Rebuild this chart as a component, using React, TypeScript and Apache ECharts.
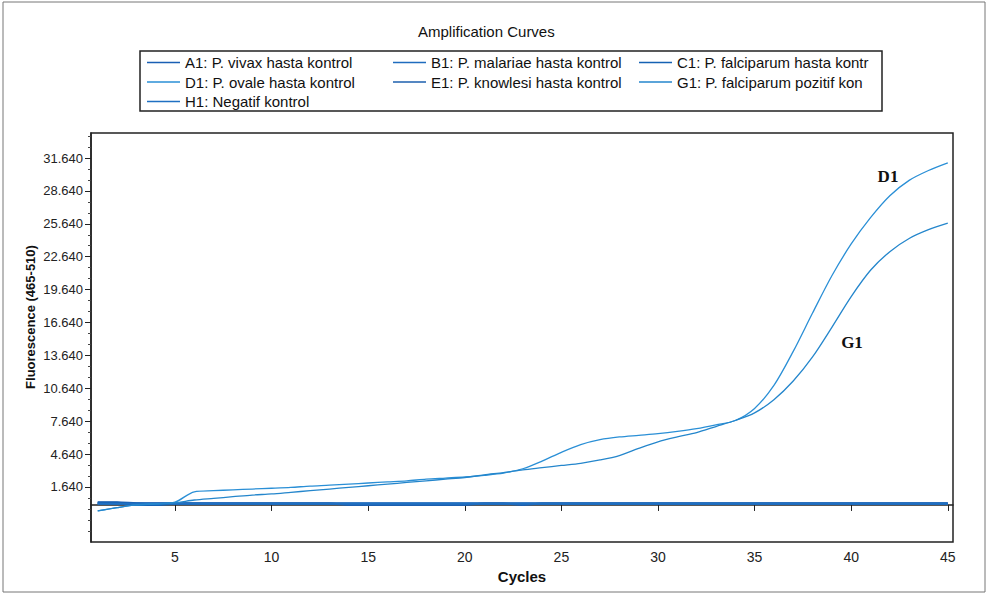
import React, { useEffect, useRef } from "react";
import * as echarts from "echarts";

const cycles = [1, 2, 3, 4, 5, 6, 7, 8, 9, 10, 11, 12, 13, 14, 15, 16, 17, 18, 19, 20, 21, 22, 23, 24, 25, 26, 27, 28, 29, 30, 31, 32, 33, 34, 35, 36, 37, 38, 39, 40, 41, 42, 43, 44, 45];

const seriesNames = [
  "A1: P. vivax hasta kontrol",
  "B1: P. malariae hasta kontrol",
  "C1: P. falciparum hasta kontr",
  "D1: P. ovale hasta kontrol",
  "E1: P. knowlesi hasta kontrol",
  "G1: P. falciparum pozitif kon",
  "H1: Negatif kontrol",
];

const A1 = [0.25, 0.25, 0.15, 0.12, 0.12, 0.12, 0.12, 0.12, 0.12, 0.12, 0.12, 0.12, 0.12, 0.12, 0.12, 0.12, 0.12, 0.12, 0.12, 0.12, 0.12, 0.12, 0.12, 0.12, 0.12, 0.12, 0.12, 0.12, 0.12, 0.12, 0.12, 0.12, 0.12, 0.12, 0.12, 0.12, 0.12, 0.12, 0.12, 0.12, 0.12, 0.12, 0.12, 0.12, 0.12];
const B1 = [0.12, 0.12, 0.12, 0.12, 0.12, 0.12, 0.12, 0.12, 0.12, 0.12, 0.12, 0.12, 0.12, 0.12, 0.12, 0.12, 0.12, 0.12, 0.12, 0.12, 0.12, 0.12, 0.12, 0.12, 0.12, 0.12, 0.12, 0.12, 0.12, 0.12, 0.12, 0.12, 0.12, 0.12, 0.12, 0.12, 0.12, 0.12, 0.12, 0.12, 0.12, 0.12, 0.12, 0.12, 0.12];
const C1 = [0.2, 0.2, 0.0, 0.0, 0.1, 0.1, 0.1, 0.1, 0.1, 0.1, 0.1, 0.1, 0.1, 0.1, 0.1, 0.1, 0.1, 0.1, 0.1, 0.1, 0.1, 0.1, 0.1, 0.1, 0.1, 0.1, 0.1, 0.1, 0.1, 0.1, 0.1, 0.1, 0.1, 0.1, 0.1, 0.1, 0.1, 0.1, 0.1, 0.1, 0.1, 0.1, 0.1, 0.1, 0.1];
const D1 = [-0.55, -0.25, 0.0, 0.1, 0.25, 1.2, 1.3, 1.38, 1.45, 1.52, 1.6, 1.72, 1.8, 1.9, 2.0, 2.1, 2.2, 2.35, 2.45, 2.55, 2.7, 2.9, 3.3, 4.0, 4.8, 5.5, 5.95, 6.2, 6.35, 6.5, 6.7, 6.95, 7.3, 7.7, 8.8, 10.9, 14.0, 17.5, 20.9, 23.8, 26.2, 28.2, 29.6, 30.5, 31.2];
const E1 = [0.12, 0.12, 0.12, 0.12, 0.12, 0.12, 0.12, 0.12, 0.12, 0.12, 0.12, 0.12, 0.12, 0.0, 0.0, 0.0, 0.0, 0.0, 0.0, 0.0, 0.12, 0.12, 0.0, 0.12, 0.12, 0.12, 0.12, 0.12, 0.12, 0.12, 0.12, 0.12, 0.12, 0.12, 0.12, 0.12, 0.12, 0.12, 0.12, 0.12, 0.12, 0.12, 0.12, 0.12, 0.12];
const G1 = [-0.55, -0.25, 0.0, 0.1, 0.2, 0.45, 0.6, 0.75, 0.9, 1.0, 1.15, 1.3, 1.45, 1.6, 1.75, 1.9, 2.05, 2.2, 2.35, 2.5, 2.75, 2.95, 3.2, 3.4, 3.6, 3.8, 4.1, 4.5, 5.15, 5.75, 6.2, 6.6, 7.15, 7.7, 8.4, 9.6, 11.3, 13.5, 16.2, 19.0, 21.4, 23.1, 24.3, 25.1, 25.7];
const H1 = [0.1, 0.1, 0.1, 0.1, 0.1, 0.1, 0.1, 0.1, 0.1, 0.1, 0.1, 0.1, 0.1, 0.1, 0.1, 0.1, 0.1, 0.1, 0.1, 0.1, 0.1, 0.1, 0.1, 0.1, 0.1, 0.1, 0.1, 0.1, 0.1, 0.1, 0.1, 0.1, 0.1, 0.1, 0.1, 0.1, 0.1, 0.1, 0.1, 0.1, 0.1, 0.1, 0.1, 0.1, 0.1];

const seriesValues = [A1, B1, C1, D1, E1, G1, H1];
const seriesColors = ["#1a5fb4", "#1f6cbe", "#1562b3", "#2a8fd6", "#1d5fae", "#2486cc", "#1f70c2"];
const seriesWidths = [2, 2, 2, 1.3, 2, 1.3, 2];

const yTickValues = [1.64, 4.64, 7.64, 10.64, 13.64, 16.64, 19.64, 22.64, 25.64, 28.64, 31.64];
const yMinorTickValues = [-2.36, -1.36, -0.36, 0.64, 2.64, 3.64, 5.64, 6.64, 8.64, 9.64, 11.64, 12.64, 14.64, 15.64, 17.64, 18.64, 20.64, 21.64, 23.64, 24.64, 26.64, 27.64, 29.64, 30.64, 32.64, 33.64];
const xTickValues = [5, 10, 15, 20, 25, 30, 35, 40, 45];

const Y_MIN = -3.38;
const Y_MAX = 33.92;
const X_MIN = 0.653;
const X_MAX = 45.27;

const FONT = "'Liberation Sans', Arial, sans-serif";

export default function App() {
  const ref = useRef<HTMLDivElement>(null);

  useEffect(() => {
    document.body.style.margin = "0";
    const chart = echarts.init(ref.current!, null, { renderer: "svg" });

    const series: any[] = seriesNames.map((name, i) => ({
      name,
      type: "line",
      xAxisIndex: 0,
      yAxisIndex: 0,
      symbol: "none",
      smooth: 0.3,
      data: cycles.map((c, j) => [c, seriesValues[i][j]]),
      lineStyle: { color: seriesColors[i], width: seriesWidths[i] },
      itemStyle: { color: seriesColors[i] },
      z: i === 3 || i === 5 ? 3 : 2,
    }));

    const gridRect = { left: 91, top: 133, width: 862, height: 409 };

    chart.setOption({
      animation: false,
      backgroundColor: "#ffffff",
      textStyle: { fontFamily: FONT },
      title: {
        text: "Amplification Curves",
        left: 413,
        top: 19,
        textStyle: { fontSize: 15, fontWeight: "normal", color: "#111", fontFamily: FONT },
      },
      legend: {
        left: 147,
        top: 55,
        width: 740,
        padding: 0,
        icon: "rect",
        itemWidth: 33,
        itemHeight: 1.6,
        itemGap: 4.5,
        data: seriesNames,
        textStyle: {
          fontSize: 15,
          color: "#111",
          width: 203.5,
          height: 14,
          lineHeight: 14,
          overflow: "truncate",
          fontFamily: FONT,
        },
      },
      grid: [
        { ...gridRect, show: true, borderColor: "#222", borderWidth: 1.5, backgroundColor: "#ffffff" },
        { ...gridRect, show: false },
      ],
      xAxis: [
        {
          type: "value",
          gridIndex: 0,
          min: X_MIN,
          max: X_MAX,
          name: "Cycles",
          nameLocation: "middle",
          nameGap: 26,
          nameTextStyle: { fontSize: 15, fontWeight: "bold", color: "#111", fontFamily: FONT },
          axisLine: { show: true, lineStyle: { color: "#222", width: 1.5 } },
          axisTick: { show: true, customValues: xTickValues, length: 6, lineStyle: { color: "#222" } },
          axisLabel: { customValues: xTickValues, color: "#222", fontSize: 14, margin: 8, fontFamily: FONT },
          splitLine: { show: false },
        },
        {
          type: "value",
          gridIndex: 1,
          min: X_MIN,
          max: X_MAX,
          show: false,
        },
      ],
      yAxis: [
        {
          type: "value",
          gridIndex: 0,
          min: Y_MIN,
          max: Y_MAX,
          axisLine: { show: true, lineStyle: { color: "#222", width: 1.5 } },
          axisTick: { show: true, customValues: yTickValues, length: 6, lineStyle: { color: "#222" } },
          axisLabel: {
            customValues: yTickValues,
            formatter: (v: number) => v.toFixed(3),
            color: "#222",
            fontSize: 13,
            margin: 8,
            fontFamily: FONT,
          },
          splitLine: { show: false },
        },
        {
          type: "value",
          gridIndex: 1,
          min: Y_MIN,
          max: Y_MAX,
          axisLine: { show: false },
          axisTick: { show: true, customValues: yMinorTickValues, length: 3, lineStyle: { color: "#444" } },
          axisLabel: { show: false },
          splitLine: { show: false },
        },
      ],
      series,
      graphic: [
        {
          type: "rect",
          silent: true,
          shape: { x: 3, y: 2, width: 982, height: 590 },
          style: { fill: "none", stroke: "#777", lineWidth: 1 },
          z: -10,
        },
        {
          type: "rect",
          silent: true,
          shape: { x: 140, y: 51, width: 742, height: 60 },
          style: { fill: "none", stroke: "#222", lineWidth: 1.5 },
        },
        {
          type: "text",
          silent: true,
          x: 30,
          y: 317,
          rotation: Math.PI / 2,
          style: {
            text: "Fluorescence (465-510)",
            fontSize: 13,
            fontWeight: "bold",
            fill: "#111",
            fontFamily: FONT,
            align: "center",
            verticalAlign: "middle",
          },
        },
        {
          type: "text",
          silent: true,
          x: 888,
          y: 176,
          style: {
            text: "D1",
            fontSize: 17,
            fontWeight: "bold",
            fill: "#111",
            fontFamily: "'Liberation Serif', 'DejaVu Serif', serif",
            align: "center",
            verticalAlign: "middle",
          },
        },
        {
          type: "text",
          silent: true,
          x: 852,
          y: 342,
          style: {
            text: "G1",
            fontSize: 17,
            fontWeight: "bold",
            fill: "#111",
            fontFamily: "'Liberation Serif', 'DejaVu Serif', serif",
            align: "center",
            verticalAlign: "middle",
          },
        },
      ],
    });

    return () => chart.dispose();
  }, []);

  return <div ref={ref} style={{ width: 988, height: 594 }} />;
}
